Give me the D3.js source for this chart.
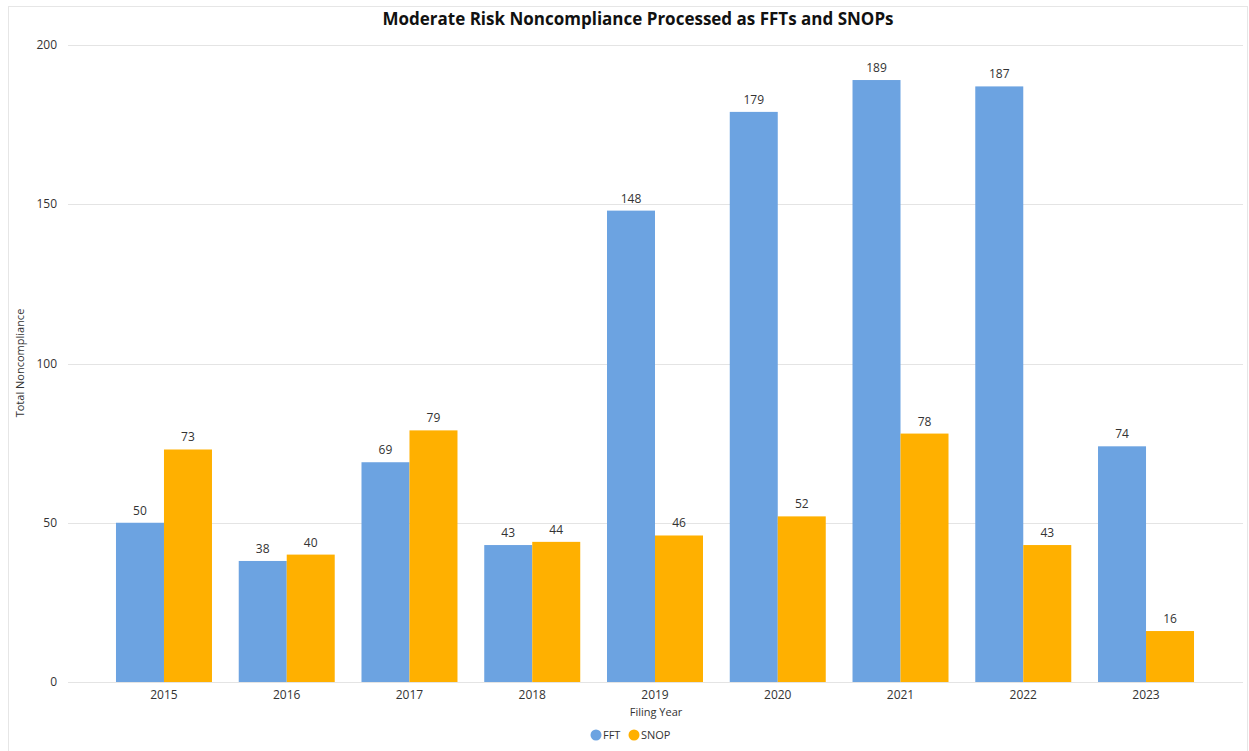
<!DOCTYPE html>
<html>
<head>
<meta charset="utf-8">
<script src="https://cdn.jsdelivr.net/npm/d3@7"></script>
<style>
  body { margin: 0; background: #fff; }
  svg text { font-family: "Open Sans", "Noto Sans", sans-serif; fill: #333; }
</style>
</head>
<body>
<div id="chart"></div>
<script>
// Data
const years = ["2015", "2016", "2017", "2018", "2019", "2020", "2021", "2022", "2023"];
const seriesNames = ["FFT", "SNOP"];
const fftValues = [50, 38, 69, 43, 148, 179, 189, 187, 74];
const snopValues = [73, 40, 79, 44, 46, 52, 78, 43, 16];
const yTicks = [0, 50, 100, 150, 200];

const W = 1249, H = 751;
const colors = { FFT: "#6CA3E1", SNOP: "#FFB000" };

const svg = d3.select("#chart").append("svg")
  .attr("width", W)
  .attr("height", H);

// faint outer frame
svg.append("rect")
  .attr("x", 8.5).attr("y", 6.5)
  .attr("width", W - 10).attr("height", H - 4)
  .attr("fill", "none")
  .attr("stroke", "#e6e6e6");

// Plot geometry
const plotLeft = 68, plotRight = 1243;
const y0 = 682, yTop = 45;

const x0 = d3.scaleBand()
  .domain(years)
  .range([102.6, 1207.4])
  .paddingInner(0.218)
  .paddingOuter(0.109);

const x1 = d3.scaleBand()
  .domain(seriesNames)
  .range([0, x0.bandwidth()]);

const y = d3.scaleLinear().domain([0, 200]).range([y0, yTop]);

// gridlines
svg.append("g")
  .selectAll("line")
  .data(yTicks)
  .join("line")
  .attr("x1", plotLeft).attr("x2", plotRight)
  .attr("y1", d => Math.round(y(d)) + 0.5)
  .attr("y2", d => Math.round(y(d)) + 0.5)
  .attr("stroke", "#e4e4e4");

// y tick labels
svg.append("g")
  .selectAll("text")
  .data(yTicks)
  .join("text")
  .attr("x", 57)
  .attr("y", d => y(d) + 4)
  .attr("text-anchor", "end")
  .style("font-size", "12px")
  .text(d => d);

// x tick labels
svg.append("g")
  .selectAll("text")
  .data(years)
  .join("text")
  .attr("x", d => x0(d) + x0.bandwidth() / 2)
  .attr("y", 699)
  .attr("text-anchor", "middle")
  .style("font-size", "12px")
  .text(d => d);

// bars
const rows = years.map((yr, i) => ({ year: yr, FFT: fftValues[i], SNOP: snopValues[i] }));

const groups = svg.append("g")
  .selectAll("g")
  .data(rows)
  .join("g")
  .attr("transform", d => `translate(${x0(d.year)},0)`);

const cells = groups.selectAll("g")
  .data(d => seriesNames.map(k => ({ key: k, value: d[k] })))
  .join("g");

cells.append("rect")
  .attr("x", d => x1(d.key))
  .attr("width", x1.bandwidth())
  .attr("y", d => y(d.value))
  .attr("height", d => y0 - y(d.value))
  .attr("fill", d => colors[d.key]);

cells.append("text")
  .attr("x", d => x1(d.key) + x1.bandwidth() / 2)
  .attr("y", d => y(d.value) - 8)
  .attr("text-anchor", "middle")
  .style("font-size", "12px")
  .text(d => d.value);

// title
svg.append("text")
  .attr("x", 638)
  .attr("y", 25)
  .attr("text-anchor", "middle")
  .style("font-size", "17px")
  .style("font-weight", "bold")
  .style("fill", "#111")
  .text("Moderate Risk Noncompliance Processed as FFTs and SNOPs");

// axis titles
svg.append("text")
  .attr("x", 656)
  .attr("y", 716)
  .attr("text-anchor", "middle")
  .style("font-size", "11px")
  .text("Filing Year");

svg.append("text")
  .attr("transform", "translate(24,363) rotate(-90)")
  .attr("text-anchor", "middle")
  .style("font-size", "11px")
  .text("Total Noncompliance");

// legend
const legend = svg.append("g").attr("transform", "translate(596,735)");
const legendItems = [
  { name: "FFT", dx: 0 },
  { name: "SNOP", dx: 38 }
];
const li = legend.selectAll("g")
  .data(legendItems)
  .join("g")
  .attr("transform", d => `translate(${d.dx},0)`);
li.append("circle")
  .attr("r", 5.5)
  .attr("fill", d => colors[d.name]);
li.append("text")
  .attr("x", 7)
  .attr("y", 4)
  .style("font-size", "11px")
  .text(d => d.name);
</script>
</body>
</html>
